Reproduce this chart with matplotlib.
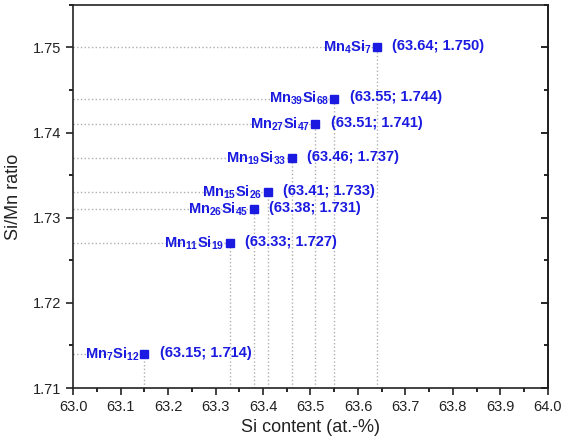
import matplotlib
matplotlib.use("Agg")
import matplotlib.pyplot as plt
from matplotlib.ticker import MultipleLocator

# phase data: Si content (at.-%) and Si/Mn ratio
phases = [(4, 7), (39, 68), (27, 47), (19, 33), (15, 26), (26, 45), (11, 19), (7, 12)]
si_content = [63.64, 63.55, 63.51, 63.46, 63.41, 63.38, 63.33, 63.15]
ratio = [1.750, 1.744, 1.741, 1.737, 1.733, 1.731, 1.727, 1.714]

plt.rcParams['font.family'] = ['Liberation Sans', 'DejaVu Sans']
plt.rcParams['mathtext.fontset'] = 'custom'
plt.rcParams['mathtext.bf'] = 'Liberation Sans:bold'
plt.rcParams['mathtext.rm'] = 'Liberation Sans'

blue = '#1a1ae0'
fig = plt.figure(figsize=(5.63, 4.43), dpi=100)
ax = fig.add_axes([0.13, 0.124, 0.843, 0.865])

x0, y0 = 63.0, 1.71
for x, y in zip(si_content, ratio):
    ax.plot([x0, x], [y, y], ls=':', color='#b0b0b0', lw=1, zorder=1)
    ax.plot([x, x], [y0, y], ls=':', color='#b0b0b0', lw=1, zorder=1)

ax.plot(si_content, ratio, 's', color=blue, ms=6, zorder=3)

for (a, b), x, y in zip(phases, si_content, ratio):
    ax.annotate(r'$\mathbf{Mn_{%d}Si_{%d}}$' % (a, b), (x, y), xytext=(-4, 0),
                textcoords='offset points', ha='right', va='center',
                color=blue, fontsize=10.5)
    ax.annotate('(%.2f; %.3f)' % (x, y), (x, y), xytext=(11, 1),
                textcoords='offset points', ha='left', va='center',
                color=blue, fontsize=10.5, fontweight='bold')

ax.set_xlim(63.0, 64.0)
ax.set_ylim(1.71, 1.755)
ax.xaxis.set_major_locator(MultipleLocator(0.1))
ax.xaxis.set_minor_locator(MultipleLocator(0.05))
ax.yaxis.set_major_locator(MultipleLocator(0.01))
ax.yaxis.set_minor_locator(MultipleLocator(0.005))
ax.xaxis.set_major_formatter(plt.FuncFormatter(lambda v, p: '%.1f' % v))
ax.yaxis.set_major_formatter(plt.FuncFormatter(lambda v, p: '%.2f' % v))
ax.tick_params(which='major', direction='out', length=5, width=1.2, labelsize=10.5, colors='#222222')
ax.tick_params(which='minor', direction='out', length=3, width=1.2)

sec = ax.secondary_yaxis('right')
sec.yaxis.set_major_locator(MultipleLocator(0.01))
sec.yaxis.set_minor_locator(MultipleLocator(0.005))
sec.tick_params(which='major', direction='in', length=5, width=1.2, labelright=False)
sec.tick_params(which='minor', direction='in', length=3, width=1.2)

for s in ax.spines.values():
    s.set_linewidth(1.2)
    s.set_color('#222222')
sec.spines['right'].set_linewidth(1.2)

ax.set_xlabel('Si content (at.-%)', fontsize=13, color='#222222', labelpad=4)
ax.set_ylabel('Si/Mn ratio', fontsize=13, color='#222222', labelpad=8)

fig.savefig('out.png', dpi=100)
